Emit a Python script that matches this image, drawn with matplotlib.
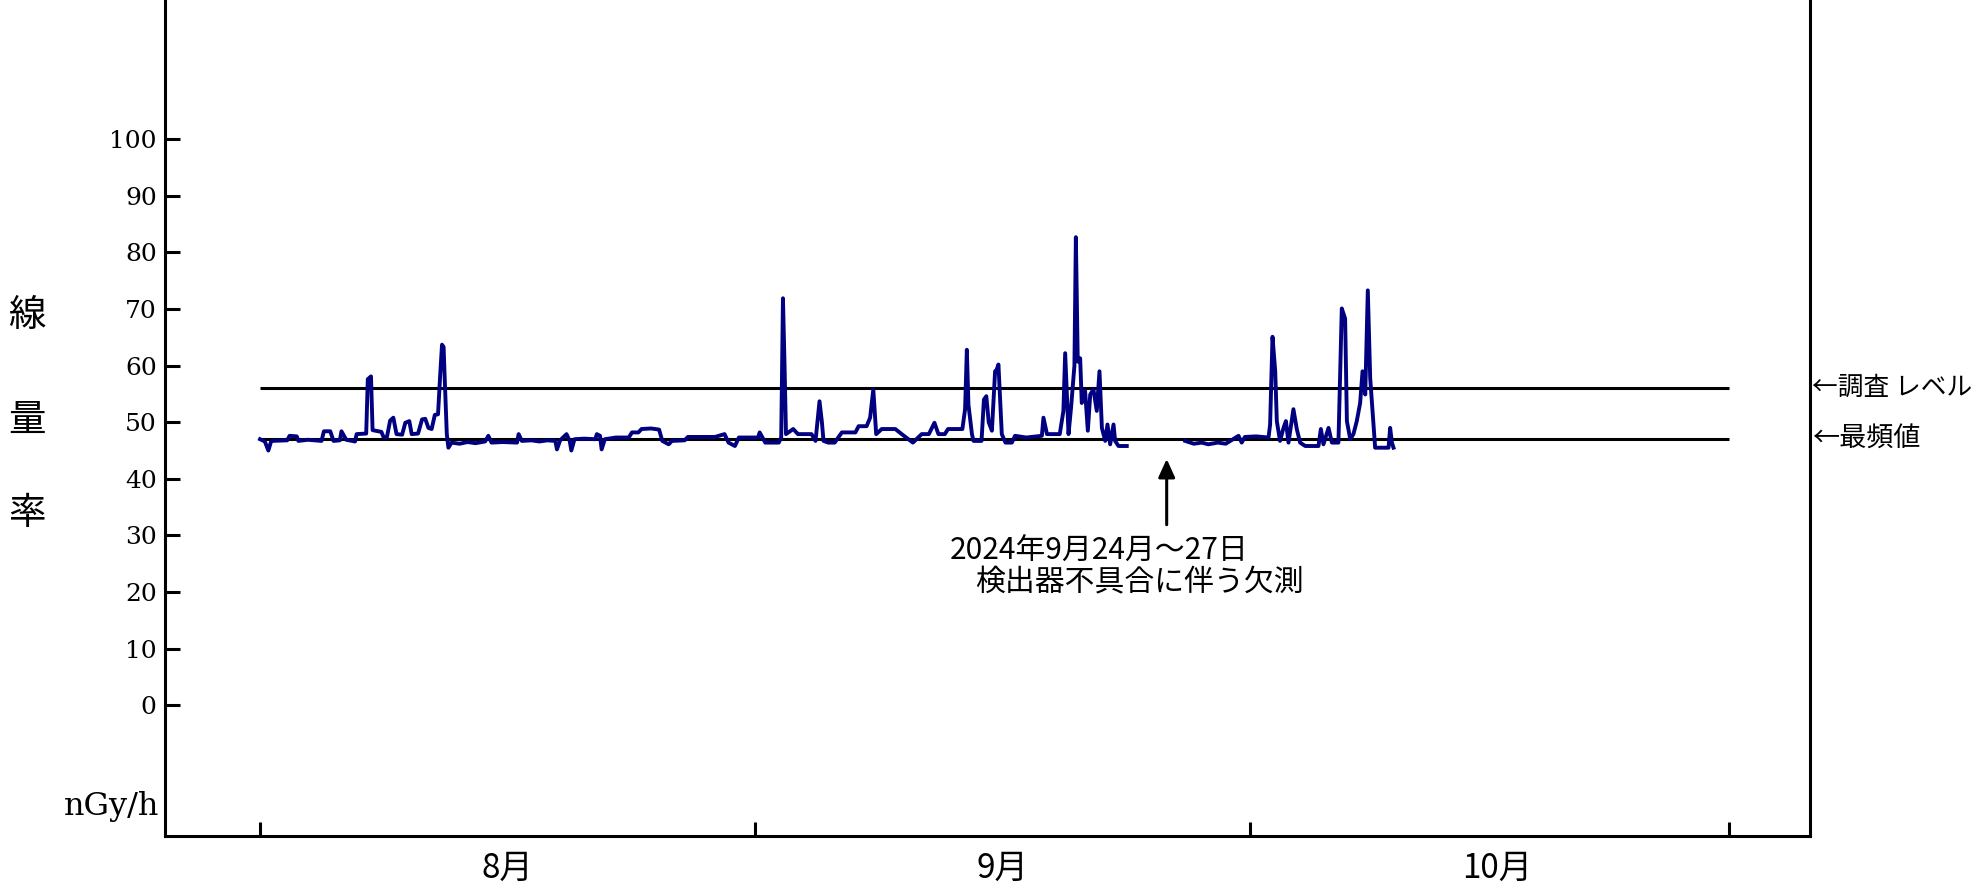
import matplotlib
matplotlib.use("Agg")
import matplotlib.pyplot as plt
import numpy as np

# days counted from the first month tick, values in nGy/h (NaN = missing data)
days = [
    0.0, 0.3, 0.52, 0.7, 1.7, 1.85, 2.3, 2.4, 3.0, 3.85, 4.0, 4.4, 4.6, 5.0, 5.1, 5.4,
    5.95, 6.05, 6.65, 6.75, 6.95, 7.05, 7.6, 7.75, 7.95, 8.15, 8.35, 8.55, 8.9, 9.1,
    9.35, 9.5, 9.9, 10.15, 10.35, 10.55, 10.75, 10.95, 11.15, 11.28, 11.4, 11.5, 11.56,
    11.7, 11.8, 12.0, 12.5, 13.0, 13.5, 14.1,
    14.3, 14.5, 15.2, 16.1, 16.2, 16.4, 17.0, 17.5, 18.0, 18.5, 18.6, 18.8, 19.2, 19.4,
    19.5, 19.7, 20.3, 21.0, 21.1, 21.3, 21.4, 21.6, 22.3, 23.1, 23.3, 23.7, 23.9, 24.5,
    25.0, 25.2, 25.6, 25.8, 26.6, 26.8, 28.5,
    29.1, 29.35, 29.75, 30.0, 31.2, 31.3, 31.65, 32.5, 32.65, 32.76, 32.86, 32.95, 33.4,
    33.7, 34.55, 34.8, 35.05, 35.2, 35.3, 35.6, 36.0, 36.45, 37.3, 37.5, 38.0, 38.22,
    38.42, 38.6, 38.95, 39.8, 40.2, 40.9, 41.45, 41.9, 42.25, 42.5, 42.9,
    43.1, 44.0, 44.17, 44.28, 44.38, 44.6, 44.7, 45.2, 45.35, 45.5, 45.65, 45.85, 46.05,
    46.15, 46.26, 46.47, 46.7, 47.1, 47.3, 48.0, 48.98, 49.08, 49.3, 50.1, 50.33, 50.44,
    50.65, 50.81, 51.02, 51.11, 51.23, 51.38, 51.48, 51.69, 51.86, 52.01, 52.21, 52.42,
    52.59, 52.74, 52.95, 53.09, 53.26, 53.47, 53.57, 53.78, 54.3,
    56.0,
    57.96, 58.5, 59.0, 59.4, 60.0, 60.5, 61.3, 61.5, 61.7, 62.4, 63.18, 63.28, 63.43,
    63.6, 63.7, 63.9, 64.12, 64.27, 64.43, 64.74, 64.95, 65.16, 65.48, 66.31, 66.46,
    66.62, 66.94, 67.15, 67.56, 67.77, 67.98, 68.09, 68.3, 68.5, 68.71, 68.92, 69.07,
    69.24, 69.4, 69.55, 69.76, 69.86, 70.7, 70.8, 70.91, 71.01,
]
dose_rate = [
    47.0, 46.6, 45.0, 46.7, 46.8, 47.6, 47.5, 46.7, 46.9, 46.7, 48.4, 48.4, 46.7, 46.8, 48.4, 46.9,
    46.6, 47.9, 48.0, 57.6, 58.1, 48.6, 48.3, 47.3, 47.4, 50.3, 50.8, 47.9, 47.8, 49.9,
    50.2, 47.9, 48.0, 50.5, 50.6, 49.0, 48.8, 51.3, 51.4, 58.1, 63.7, 63.3, 58.4,
    47.9, 45.5, 46.4, 46.2, 46.5, 46.3, 46.6,
    47.6, 46.4, 46.5, 46.4, 47.9, 46.7, 46.8, 46.6, 46.8, 46.7, 45.2, 46.8, 47.9, 46.7,
    45.0, 47.0, 47.1, 47.0, 47.9, 47.6, 45.2, 47.0, 47.3, 47.3, 48.2, 48.2, 48.8, 48.9,
    48.7, 46.7, 46.1, 46.7, 46.8, 47.4, 47.4,
    47.9, 46.4, 45.8, 47.3, 47.3, 48.2, 46.4, 46.4, 47.3, 71.9, 60.0, 47.9, 48.8,
    47.9, 47.9, 46.7, 53.7, 50.0, 46.7, 46.4, 46.4, 48.2, 48.2, 49.3, 49.3, 50.8,
    55.8, 47.9, 48.8, 48.8, 47.9, 46.4, 47.9, 47.9, 49.9, 47.9, 47.9,
    48.8, 48.8, 52.3, 62.8, 53.1, 47.9, 46.7, 46.7, 54.0, 54.6, 50.0, 48.5, 59.0,
    59.3, 60.2, 47.9, 46.4, 46.4, 47.6, 47.3, 47.6, 50.8, 47.9, 47.9, 52.0, 62.2,
    47.9, 52.6, 60.0, 82.7, 60.7, 61.3, 53.4, 55.5, 48.5, 54.9, 55.8, 52.0,
    59.0, 49.0, 46.7, 49.6, 46.1, 49.6, 46.7, 45.8, 45.8,
    np.nan,
    46.7, 46.2, 46.4, 46.1, 46.4, 46.2, 47.6, 46.4, 47.4, 47.5, 47.3, 49.6, 65.1,
    59.0, 50.2, 46.7, 49.0, 50.2, 46.4, 52.3, 48.8, 46.4, 45.8, 45.8, 48.8,
    46.1, 49.0, 46.4, 46.4, 70.1, 68.3, 50.2, 47.0, 47.9, 50.2, 53.4, 59.0,
    54.9, 73.3, 57.8, 49.6, 45.5, 45.5, 49.0, 46.4, 45.5,
]

survey_level = 56
mode_value = 47
y_ticks = list(range(0, 101, 10))
month_edges = [0, 31, 62, 92]
month_centers = [15.5, 46.5, 77.5]
month_labels = ["8月", "9月", "10月"]

JP = ["Noto Sans CJK JP", "DejaVu Sans"]
SERIF = "DejaVu Serif"


def main() -> None:
    fig = plt.figure(figsize=(19.77, 8.9), dpi=100)
    ax = fig.add_axes([0.0835, 0.0607, 0.832, 0.9393])

    ax.plot(days, dose_rate, color="#000080", lw=2.8, zorder=3)
    ax.hlines([survey_level, mode_value], month_edges[0], month_edges[-1],
              color="black", lw=2.2, zorder=2)

    ax.set_xlim(-5.95, 97.1)
    ax.set_ylim(-23.1, 124.6)

    ax.set_yticks(y_ticks)
    ax.set_yticklabels([str(v) for v in y_ticks], fontfamily=SERIF, fontsize=18)
    ax.tick_params(axis="y", direction="in", length=11, width=2.2, pad=6)

    ax.set_xticks(month_edges)
    ax.set_xticklabels([])
    ax.set_xticks(month_centers, minor=True)
    ax.set_xticklabels(month_labels, minor=True, fontfamily=JP, fontsize=24)
    ax.tick_params(axis="x", which="major", direction="in", length=10, width=2.2)
    ax.tick_params(axis="x", which="minor", length=0, pad=11)

    ax.spines["top"].set_visible(False)
    for side in ("left", "bottom", "right"):
        ax.spines[side].set_linewidth(2.2)

    # right-hand labels for the reference lines
    ax.text(1.001, survey_level, "←調査 レベル", transform=ax.get_yaxis_transform(),
            ha="left", va="center", fontfamily=JP, fontsize=18.5, clip_on=False)
    ax.text(1.001, mode_value, "←最頻値", transform=ax.get_yaxis_transform(),
            ha="left", va="center", fontfamily=JP, fontsize=19.5, clip_on=False)

    # missing-data note
    ax.annotate("", xy=(56.8, 44.0), xytext=(56.8, 31.4),
                arrowprops=dict(arrowstyle="-|>,head_width=0.5,head_length=1.1",
                                color="black", lw=2.2))
    ax.text(43.2, 27.2, "2024年9月24月～27日", ha="left", va="center",
            fontfamily=JP, fontsize=21.5)
    ax.text(44.8, 21.6, "検出器不具合に伴う欠測", ha="left", va="center",
            fontfamily=JP, fontsize=21.5)

    # vertical axis title and unit
    for ch, yy in zip("線量率", [0.646, 0.528, 0.4225]):
        fig.text(0.0137, yy, ch, ha="center", va="center", fontfamily=JP, fontsize=27)
    fig.text(0.0804, 0.0933, "nGy/h", ha="right", va="center",
             fontfamily=SERIF, fontsize=23)

    fig.savefig("out.png", dpi=100)
    plt.close(fig)


if __name__ == "__main__":
    main()
